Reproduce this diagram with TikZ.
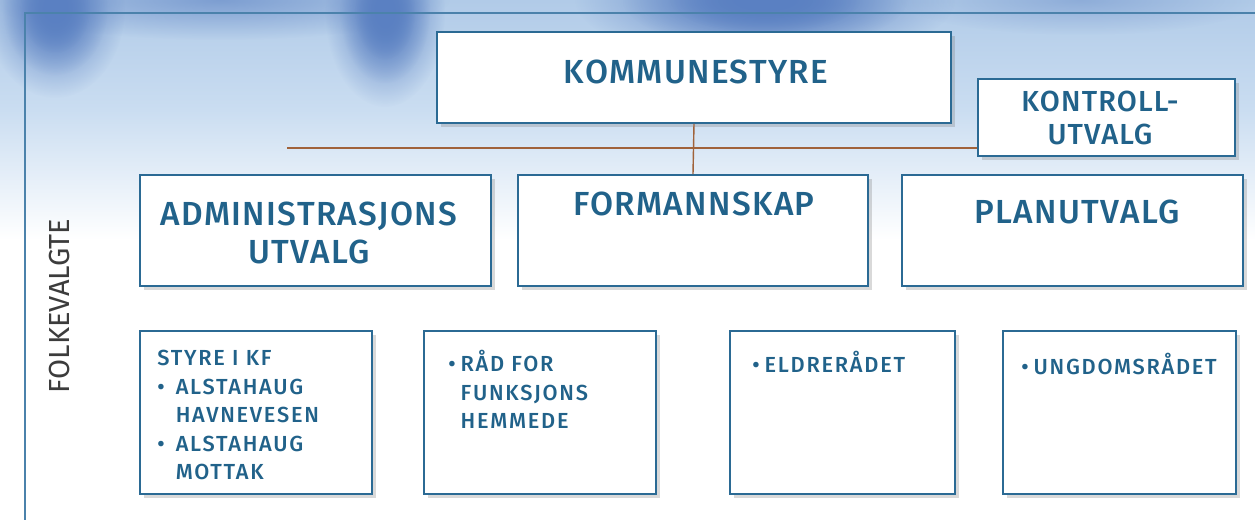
\documentclass[tikz,border=0pt]{standalone}
\usepackage{fontspec}
\setmainfont{Fira Sans}
\newfontfamily\medfont{Fira Sans Medium}[LetterSpace=4]
\newfontfamily\listefont{Fira Sans Medium}[LetterSpace=8]
\usetikzlibrary{shadows,fadings}

\definecolor{boxblue}{HTML}{2B6A94}
\definecolor{txtblue}{HTML}{21628A}
\definecolor{framecol}{HTML}{4B82AB}
\definecolor{linebrown}{HTML}{A0623A}
\definecolor{bgtop}{HTML}{B1CBE8}
\definecolor{bgmid}{HTML}{CADDF1}
\definecolor{bglow}{HTML}{E6EEF7}
\definecolor{blobcol}{HTML}{5A80C2}
\definecolor{sidegray}{HTML}{3C3C3C}

\tikzfading[name=mykant, inner color=transparent!0, outer color=transparent!100]

\tikzset{
  boks/.style={draw=boxblue, line width=1.1pt, fill=white, inner sep=0pt,
    drop shadow={shadow xshift=0.07cm, shadow yshift=-0.08cm, opacity=0.3}},
  tittel/.style={text=txtblue, font=\medfont\fontsize{19}{22}\selectfont, align=center, inner sep=0pt},
  liste/.style={text=txtblue, font=\listefont\fontsize{12.4}{16.2}\selectfont, align=left, anchor=north west, inner sep=0pt},
  forbind/.style={draw=linebrown, line width=0.8pt},
  sky/.style={blobcol, path fading=mykant}
}
\newcommand{\pkt}[1]{\makebox[#1][l]{\textbullet}}

\begin{document}
\begin{tikzpicture}[x=0.02cm, y=-0.02cm]
\useasboundingbox (0,0) rectangle (1255,520);

% Bakgrunn med blå himmel oppe
\begin{scope}
\clip (0,0) rectangle (1255,520);
\shade[top color=bgtop, bottom color=bgmid] (0,0) rectangle (1255,110);
\shade[top color=bgmid, middle color=bglow, bottom color=white] (0,110) rectangle (1255,240);
\fill[sky, opacity=0.6] (220,0) ellipse (230 and 40);
\fill[sky, opacity=0.4] (1080,0) ellipse (180 and 35);
\foreach \r in {1,0.75,0.5} {
  \fill[sky] (55,8) ellipse ({70*\r} and {90*\r});
  \fill[sky] (385,12) ellipse ({60*\r} and {95*\r});
  \fill[sky] (765,0) ellipse ({190*\r} and {65*\r});
}
\end{scope}

% Ramme
\draw[framecol, line width=1.1pt] (25,520) -- (25,13) -- (1255,13);

% Kommunestyre og kontrollutvalg
\node[boks, minimum width=514*0.02cm, minimum height=91*0.02cm] (kommune) at (694,77.5) {};
\node[tittel] (kommunetxt) at (696,72) {KOMMUNESTYRE};
\node[boks, minimum width=257*0.02cm, minimum height=77*0.02cm] (kontroll) at (1106.5,117.5) {};
\node[tittel, font=\medfont\fontsize{16.5}{19}\selectfont] (kontrolltxt) at (1100,118) {KONTROLL-\\UTVALG};

% Utvalg
\node[boks, minimum width=351*0.02cm, minimum height=111*0.02cm] (admin) at (315.5,230.5) {};
\node[tittel] (admintxt) at (309,233) {ADMINISTRASJONS\\UTVALG};
\node[boks, minimum width=350*0.02cm, minimum height=111*0.02cm] (formann) at (693,230.5) {};
\node[tittel] (formanntxt) at (694,204) {FORMANNSKAP};
\node[boks, minimum width=341*0.02cm, minimum height=111*0.02cm] (plan) at (1072.5,230.5) {};
\node[tittel] (plantxt) at (1077,212) {PLANUTVALG};

% Linjer
\coordinate (venstre) at (287,148);
\draw[forbind] (venstre) -- (venstre -| kontroll.west);
\draw[forbind] (kommune.south) -- (formann.north);

% Råd og styrer
\node[boks, minimum width=232*0.02cm, minimum height=163*0.02cm] (styre) at (256,412.5) {};
\node[liste] (styretxt) at (157,344) {\vphantom{Å}STYRE I KF\\
  \pkt{10.5pt}ALSTAHAUG\\ \hspace*{10.5pt}HAVNEVESEN\\
  \pkt{10.5pt}ALSTAHAUG\\ \hspace*{10.5pt}MOTTAK};
\node[boks, minimum width=232*0.02cm, minimum height=163*0.02cm] (raad) at (540,412.5) {};
\node[liste] (raadtxt) at (448,350) {\pkt{7pt}RÅD FOR\\ \hspace*{7pt}FUNKSJONS\\ \hspace*{7pt}HEMMEDE};
\node[boks, minimum width=225*0.02cm, minimum height=163*0.02cm] (eldre) at (842.5,412.5) {};
\node[liste] (eldretxt) at (752,351) {\pkt{7pt}ELDRERÅDET};
\node[boks, minimum width=233*0.02cm, minimum height=163*0.02cm] (ungdom) at (1119.5,412.5) {};
\node[liste] (ungdomtxt) at (1021,353) {\pkt{7pt}UNGDOMSRÅDET};

% Sidetekst
\node[rotate=90, text=sidegray, font=\fontsize{16.5}{19}\selectfont, inner sep=0pt] (folkevalgte) at (60,306) {FOLKEVALGTE};
\end{tikzpicture}
\end{document}
